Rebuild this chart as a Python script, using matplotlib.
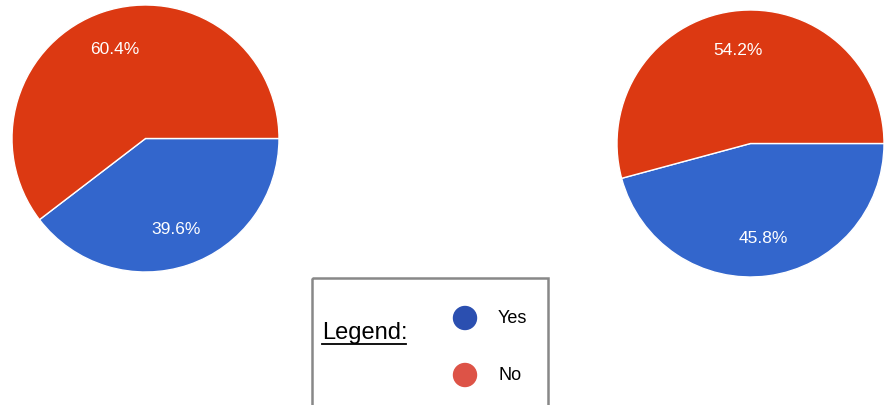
import matplotlib.pyplot as plt
from matplotlib.patches import Rectangle, Circle

categories = ["Yes", "No"]
left_values = [39.6, 60.4]
right_values = [45.8, 54.2]

pie_colors = ["#3366CC", "#DC3912"]
legend_colors = ["#2B4FB0", "#DD5347"]

plt.rcParams['font.family'] = ['Liberation Sans', 'DejaVu Sans']

fig = plt.figure(figsize=(8.85, 4.06), dpi=100)
W, H = 885, 406


def draw_pie(box, values):
    x0, y0, x1, y1 = box  # pixel box, y from top
    ax = fig.add_axes([x0 / W, (H - y1) / H, (x1 - x0) / W, (y1 - y0) / H])
    wedges, texts, autotexts = ax.pie(
        values, colors=pie_colors, startangle=0, counterclock=False,
        autopct='%.1f%%', pctdistance=0.71,
        wedgeprops=dict(edgecolor='white', linewidth=1),
        textprops=dict(color='white', fontsize=12.5))
    ax.set_xlim(-1.0, 1.0)
    ax.set_ylim(-1.0, 1.0)
    ax.set_aspect('equal')
    ax.axis('off')


draw_pie((12, 6, 279, 273), left_values)
draw_pie((617, 11, 884, 278), right_values)

# legend box in pixel coordinates
lax = fig.add_axes([0, 0, 1, 1])
lax.set_xlim(0, W)
lax.set_ylim(H, 0)
lax.axis('off')
lax.add_patch(Rectangle((312, 279), 236, 140, fill=False, edgecolor='#888888', linewidth=1.8))
lax.text(322, 333, "Legend:", fontsize=17, ha='left', va='center', color='black')
lax.plot([322, 406], [345, 345], color='black', linewidth=1.3)

for i, (cat, col) in enumerate(zip(categories, legend_colors)):
    y = 319 + i * 57
    lax.add_patch(Circle((465, y), 11.5, color=col))
    lax.text(498, y, cat, fontsize=13, ha='left', va='center', color='black')

fig.savefig("out.png", dpi=100)
